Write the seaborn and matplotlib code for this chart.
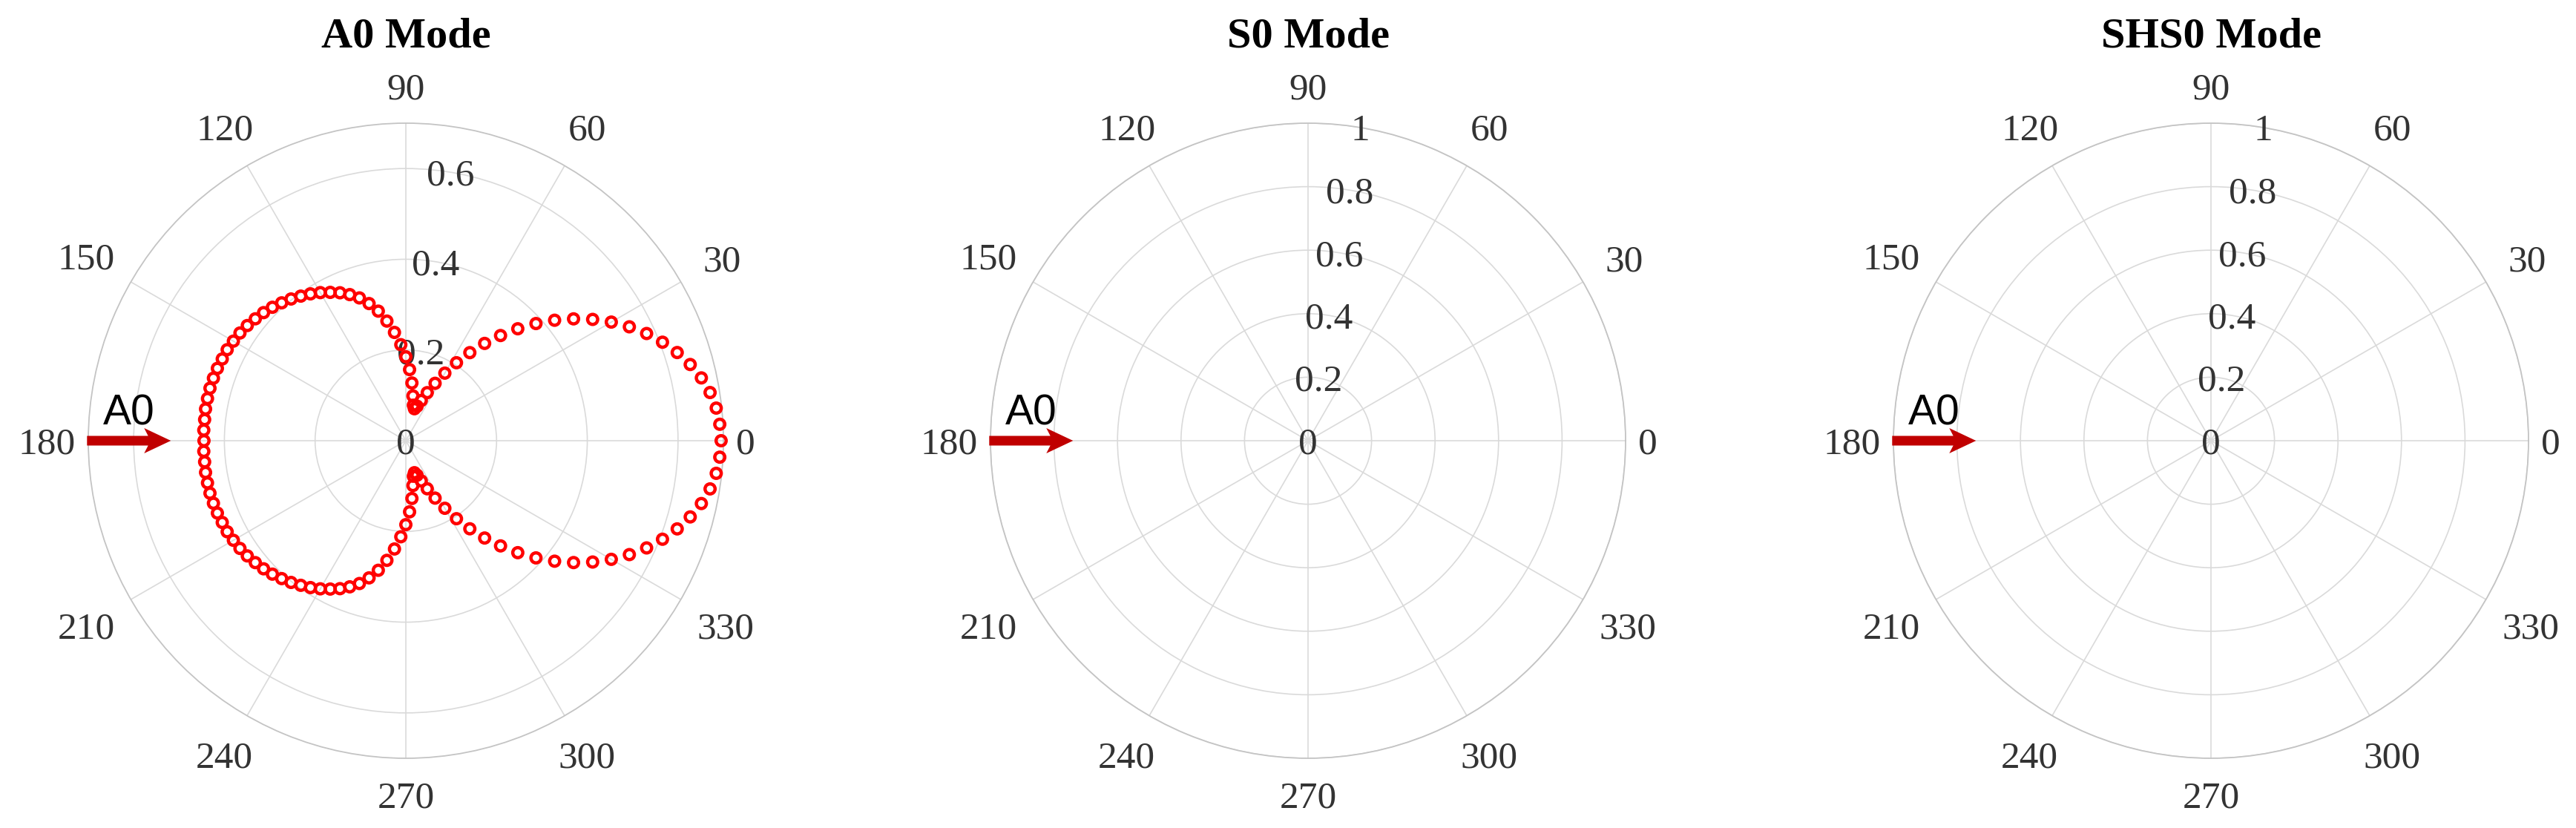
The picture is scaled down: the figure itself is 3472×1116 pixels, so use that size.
import numpy as np
import pandas as pd
import matplotlib
matplotlib.use("Agg")
import matplotlib.pyplot as plt
import seaborn as sns
from matplotlib.patches import FancyArrow

# ---------------- data ----------------
titles = ["A0 Mode", "S0 Mode", "SHS0 Mode"]
angle_deg = list(range(0, 360, 3))
a0_amplitude = [
    0.695, 0.693, 0.688, 0.679, 0.666, 0.649, 0.629, 0.606, 0.581, 0.553,
    0.523, 0.491, 0.457, 0.422, 0.386, 0.349, 0.312, 0.276, 0.240, 0.205,
    0.172, 0.142, 0.116, 0.095, 0.080, 0.073, 0.080, 0.100, 0.128, 0.157,
    0.185, 0.212, 0.240, 0.267, 0.292, 0.313, 0.331, 0.345, 0.357, 0.367,
    0.377, 0.386, 0.394, 0.402, 0.409, 0.416, 0.422, 0.427, 0.432, 0.436,
    0.439, 0.442, 0.443, 0.445, 0.446, 0.447, 0.447, 0.447, 0.446, 0.446,
    0.445, 0.446, 0.446, 0.447, 0.447, 0.447, 0.446, 0.445, 0.443, 0.442,
    0.439, 0.436, 0.432, 0.427, 0.422, 0.416, 0.409, 0.402, 0.394, 0.386,
    0.377, 0.367, 0.357, 0.345, 0.331, 0.313, 0.292, 0.267, 0.240, 0.212,
    0.185, 0.157, 0.128, 0.100, 0.080, 0.073, 0.080, 0.095, 0.116, 0.142,
    0.172, 0.205, 0.240, 0.276, 0.312, 0.349, 0.386, 0.422, 0.457, 0.491,
    0.523, 0.553, 0.581, 0.606, 0.629, 0.649, 0.666, 0.679, 0.688, 0.693,
]
s0_amplitude = []
shs0_amplitude = []
series = [a0_amplitude, s0_amplitude, shs0_amplitude]

r_max = [0.7, 1.0, 1.0]
r_ticks = [[0, 0.2, 0.4, 0.6], [0, 0.2, 0.4, 0.6, 0.8, 1.0], [0, 0.2, 0.4, 0.6, 0.8, 1.0]]
r_tick_labels = [["0", "0.2", "0.4", "0.6"],
                 ["0", "0.2", "0.4", "0.6", "0.8", "1"],
                 ["0", "0.2", "0.4", "0.6", "0.8", "1"]]
theta_ticks = list(range(0, 360, 30))
theta_tick_labels = [str(t) for t in theta_ticks]
incident_label = "A0"

# ---------------- style ----------------
sns.set_style("white")
plt.rcParams["font.family"] = ["Liberation Serif", "DejaVu Serif"]

W, H, DPI = 3472, 1116, 100
fig = plt.figure(figsize=(W / DPI, H / DPI), dpi=DPI, facecolor="white")

centers_x = [547, 1763, 2980]
cy, R = 594, 428
label_fs = 37
label_px = label_fs * DPI / 72.0
digit_h = 0.676 * label_px
text_col = "#333333"
grid_col = "#dadada"
red = "#ff0000"
arrow_col = "#c00000"

theta_annots = []
for i, cx in enumerate(centers_x):
    ax = fig.add_axes([(cx - R) / W, (H - cy - R) / H, 2 * R / W, 2 * R / H],
                      projection="polar")
    ax.set_facecolor("white")
    if len(series[i]) > 0:
        df = pd.DataFrame({"theta": np.deg2rad(angle_deg), "amp": series[i]})
        sns.scatterplot(data=df, x="theta", y="amp", ax=ax, marker="o", s=95,
                        facecolor="none", edgecolor=red, linewidth=3.2,
                        zorder=5, clip_on=False, legend=False)
    ax.set_xlabel("")
    ax.set_ylabel("")
    ax.set_ylim(0, r_max[i])
    ax.set_xticks(np.deg2rad(theta_ticks))
    ax.set_xticklabels([])
    ax.set_yticks(r_ticks[i])
    ax.set_yticklabels([])
    ax.tick_params(length=0)
    ax.grid(True, color=grid_col, linewidth=1.2)
    ax.spines["polar"].set_color("#c4c4c4")
    ax.spines["polar"].set_linewidth(1.3)

    # radial labels
    for rv, rl in zip(r_ticks[i], r_tick_labels[i]):
        ax.annotate(rl, xy=(np.deg2rad(80.5), rv), xycoords="data",
                    xytext=(0, -digit_h / 2), textcoords="offset pixels",
                    ha="center", va="baseline", fontsize=label_fs,
                    color=text_col, zorder=3, annotation_clip=False)

    # angular labels (positioned after a draw)
    for t, tl in zip(theta_ticks, theta_tick_labels):
        an = ax.annotate(tl, xy=(np.deg2rad(t), r_max[i]), xycoords="data",
                         xytext=(0, 0), textcoords="offset pixels",
                         ha="center", va="baseline", fontsize=label_fs,
                         color=text_col, annotation_clip=False)
        theta_annots.append((an, np.deg2rad(t)))

    # incident arrow and label
    ax.add_patch(FancyArrow(-0.002, 0.5, 0.132, 0.0, width=13 / 856,
                            head_width=34 / 856, head_length=36 / 856,
                            length_includes_head=True, overhang=0.15,
                            transform=ax.transAxes, color=arrow_col,
                            clip_on=False, zorder=4, linewidth=0))
    ax.text(0.064, 0.5257, incident_label, transform=ax.transAxes,
            ha="center", va="baseline", fontsize=41,
            family=["Liberation Sans", "DejaVu Sans"], color="black", zorder=4)

    fig.text(cx / W, 1 - 63 / H, titles[i], ha="center", va="baseline",
             fontsize=42, fontweight="bold", color="black")

fig.canvas.draw()
renderer = fig.canvas.get_renderer()
for an, th in theta_annots:
    bb = an.get_window_extent(renderer)
    w = bb.width
    c, s = np.cos(th), np.sin(th)
    gap = 17 + 15 * abs(s) + 12 * abs(np.sin(2 * th))
    ex = (w / 2) / abs(c) if abs(c) > 1e-6 else np.inf
    ey = (digit_h / 2) / abs(s) if abs(s) > 1e-6 else np.inf
    d = gap + min(ex, ey)
    an.xyann = (d * c, d * s - digit_h / 2)

fig.savefig("out.png", dpi=DPI, facecolor="white")
